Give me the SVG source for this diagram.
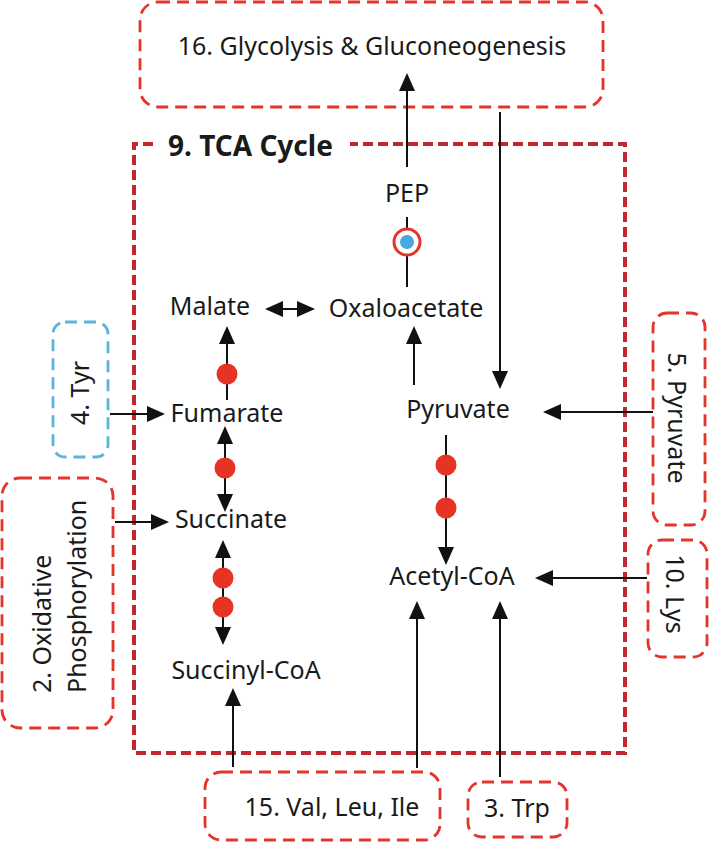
<svg xmlns="http://www.w3.org/2000/svg" width="709" height="844" viewBox="0 0 709 844">
<style>
.lbl{font-family:"Noto Sans","Open Sans",sans-serif;font-size:25px;fill:#1a1a1a}
.box{fill:none;stroke:#e3352b;stroke-width:2.8;stroke-dasharray:12 7}
.blue{fill:none;stroke:#5ab4dc;stroke-width:2.8;stroke-dasharray:12 7}
.tca{fill:none;stroke:#c0282d;stroke-width:4;stroke-dasharray:10 5}
.ln{stroke:#111;stroke-width:2;fill:none}
.arr{marker-end:url(#ah)}
.dbl{marker-start:url(#ah);marker-end:url(#ah)}
.dot{fill:#e63323}
</style>
<defs>
<marker id="ah" markerUnits="userSpaceOnUse" markerWidth="18" markerHeight="16" refX="16" refY="8" orient="auto-start-reverse">
<path d="M0,0 L18,8 L0,16 z" fill="#111"/>
</marker>
</defs>
<rect width="709" height="844" fill="#fff"/>

<g id="tca-cycle">
<path class="tca" d="M153,144 H134 V753 H625 V144 H350"/>
<text x="168" y="156" style="font-family:'Noto Sans','Open Sans',sans-serif;font-size:28px;font-weight:bold;fill:#1a1a1a">9. TCA Cycle</text>
</g>

<g id="glycolysis">
<rect class="box" x="140" y="2" width="463" height="105" rx="18"/>
<text class="lbl" x="372" y="55" text-anchor="middle">16. Glycolysis &amp; Gluconeogenesis</text>
</g>

<g id="tyr">
<rect class="blue" x="53" y="322" width="55" height="135" rx="12"/>
<text class="lbl" transform="translate(89,393) rotate(-90)" text-anchor="middle">4. Tyr</text>
</g>

<g id="oxphos">
<rect class="box" x="2" y="478" width="111" height="250" rx="18"/>
<text class="lbl" transform="translate(51,693) rotate(-90)">2. Oxidative</text>
<text class="lbl" transform="translate(86,693) rotate(-90)">Phosphorylation</text>
</g>

<g id="pyruvate-pathway">
<rect class="box" x="653" y="313" width="52" height="212" rx="14"/>
<text class="lbl" transform="translate(668,418) rotate(90)" text-anchor="middle">5. Pyruvate</text>
</g>

<g id="lys">
<rect class="box" x="648" y="540" width="59" height="117" rx="14"/>
<text class="lbl" transform="translate(666,594) rotate(90)" text-anchor="middle">10. Lys</text>
</g>

<g id="val-leu-ile">
<rect class="box" x="205" y="772" width="235" height="68" rx="16"/>
<text class="lbl" x="332" y="816" text-anchor="middle">15. Val, Leu, Ile</text>
</g>

<g id="trp">
<rect class="box" x="468" y="782" width="99" height="55" rx="14"/>
<text class="lbl" x="517" y="817" text-anchor="middle">3. Trp</text>
</g>

<g id="pep"><text class="lbl" x="407" y="202" text-anchor="middle">PEP</text></g>
<g id="oxaloacetate"><text class="lbl" x="406" y="317" text-anchor="middle">Oxaloacetate</text></g>
<g id="malate"><text class="lbl" x="210" y="315" text-anchor="middle">Malate</text></g>
<g id="fumarate"><text class="lbl" x="227" y="422" text-anchor="middle">Fumarate</text></g>
<g id="succinate"><text class="lbl" x="231" y="528" text-anchor="middle">Succinate</text></g>
<g id="succinyl-coa"><text class="lbl" x="246" y="679" text-anchor="middle">Succinyl-CoA</text></g>
<g id="pyruvate"><text class="lbl" x="458" y="418" text-anchor="middle">Pyruvate</text></g>
<g id="acetyl-coa"><text class="lbl" x="452" y="585" text-anchor="middle">Acetyl-CoA</text></g>

<g id="connectors">
<line class="ln arr" x1="407" y1="167" x2="407" y2="75"/>
<line class="ln arr" x1="500" y1="112" x2="500" y2="387"/>
<line class="ln" x1="407" y1="217" x2="407" y2="287"/>
<circle cx="407" cy="242" r="13" fill="#fff" stroke="#e3352b" stroke-width="3"/>
<circle cx="407" cy="242" r="7" fill="#4aa8e0"/>
<line class="ln dbl" x1="267" y1="309" x2="313" y2="309"/>
<line class="ln arr" x1="414" y1="385" x2="414" y2="328"/>
<line class="ln arr" x1="227" y1="400" x2="227" y2="328"/>
<circle class="dot" cx="227" cy="374" r="10.5"/>
<line class="ln dbl" x1="225" y1="428" x2="225" y2="510"/>
<circle class="dot" cx="225" cy="468" r="10.5"/>
<line class="ln dbl" x1="223" y1="542" x2="223" y2="643"/>
<circle class="dot" cx="223" cy="578" r="10.5"/>
<circle class="dot" cx="223" cy="607" r="10.5"/>
<line class="ln arr" x1="110" y1="414" x2="163" y2="414"/>
<line class="ln arr" x1="115" y1="522" x2="167" y2="522"/>
<line class="ln arr" x1="653" y1="412" x2="545" y2="412"/>
<line class="ln arr" x1="446" y1="435" x2="446" y2="563"/>
<circle class="dot" cx="446" cy="465" r="10.5"/>
<circle class="dot" cx="446" cy="508" r="10.5"/>
<line class="ln arr" x1="647" y1="578" x2="537" y2="578"/>
<line class="ln arr" x1="233" y1="767" x2="233" y2="690"/>
<line class="ln arr" x1="417" y1="768" x2="417" y2="603"/>
<line class="ln arr" x1="500" y1="777" x2="500" y2="603"/>
</g>
</svg>
